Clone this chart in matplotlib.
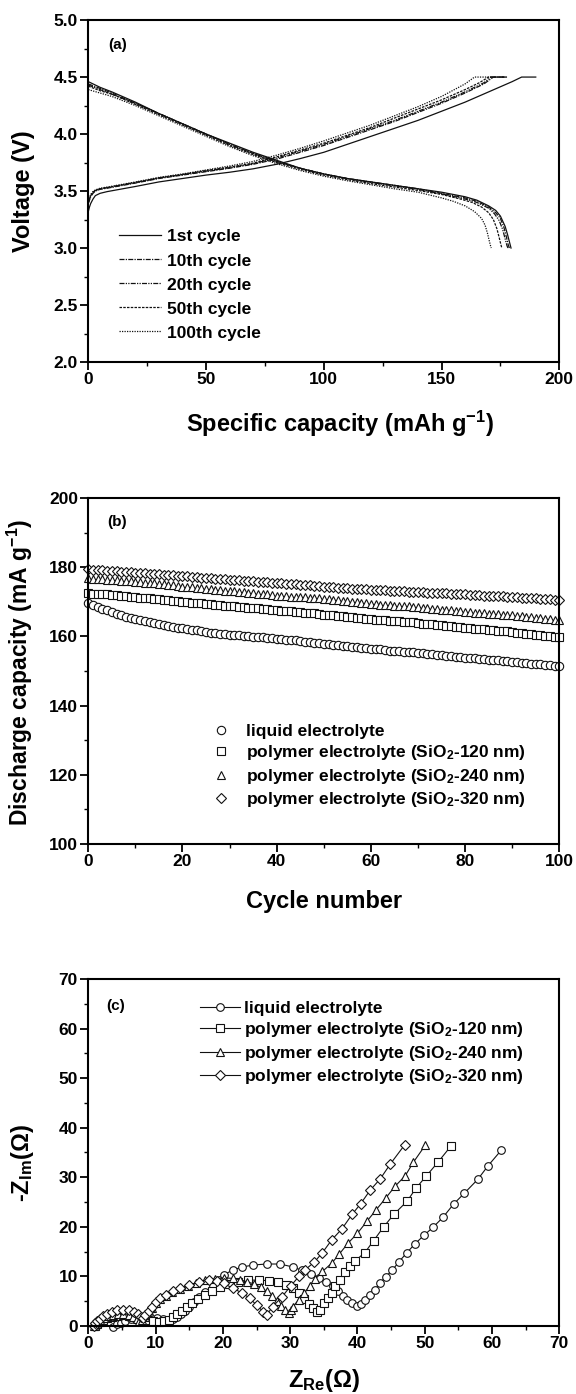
import numpy as np
import matplotlib.pyplot as plt
from matplotlib.ticker import MultipleLocator

plt.rcParams['font.family'] = ['Liberation Sans', 'DejaVu Sans']
plt.rcParams['font.weight'] = 'bold'
plt.rcParams['axes.labelweight'] = 'bold'
plt.rcParams['mathtext.fontset'] = 'custom'
plt.rcParams['mathtext.rm'] = 'Liberation Sans:bold'
plt.rcParams['mathtext.it'] = 'Liberation Sans:bold'
plt.rcParams['mathtext.bf'] = 'Liberation Sans:bold'
plt.rcParams['mathtext.default'] = 'rm'

# ---------------- (a) charge / discharge profiles ----------------
cycle_names = ['1st cycle', '10th cycle', '20th cycle', '50th cycle', '100th cycle']

chg_x_1 = [0, 0.5, 1, 2, 3, 5, 8, 12, 20, 30, 40, 50, 60, 70, 80, 90, 100, 110, 120, 130, 140, 150, 160, 170, 180, 184, 190]
chg_v_1 = [3.32, 3.36, 3.39, 3.43, 3.46, 3.48, 3.495, 3.51, 3.54, 3.58, 3.61, 3.64, 3.665, 3.695, 3.735, 3.785, 3.84, 3.91, 3.98, 4.05, 4.12, 4.20, 4.28, 4.37, 4.46, 4.50, 4.50]
chg_x_10 = [0, 0.5, 1, 2, 3, 5, 8, 12, 20, 30, 40, 50, 60, 70, 80, 90, 100, 110, 120, 130, 140, 150, 160, 168, 172, 178]
chg_v_10 = [3.39, 3.42, 3.45, 3.48, 3.50, 3.515, 3.525, 3.54, 3.57, 3.61, 3.64, 3.67, 3.70, 3.735, 3.78, 3.84, 3.90, 3.97, 4.04, 4.11, 4.19, 4.27, 4.36, 4.44, 4.50, 4.50]
chg_x_20 = [0, 0.5, 1, 2, 3, 5, 8, 12, 20, 30, 40, 50, 60, 70, 80, 90, 100, 110, 120, 130, 140, 150, 160, 168, 171, 178]
chg_v_20 = [3.40, 3.43, 3.46, 3.49, 3.505, 3.52, 3.53, 3.545, 3.575, 3.615, 3.645, 3.675, 3.705, 3.74, 3.79, 3.85, 3.91, 3.98, 4.05, 4.12, 4.20, 4.28, 4.37, 4.45, 4.50, 4.50]
chg_x_50 = [0, 0.5, 1, 2, 3, 5, 8, 12, 20, 30, 40, 50, 60, 70, 80, 90, 100, 110, 120, 130, 140, 150, 160, 166, 170, 177]
chg_v_50 = [3.40, 3.43, 3.46, 3.49, 3.505, 3.52, 3.53, 3.545, 3.575, 3.615, 3.645, 3.68, 3.71, 3.745, 3.80, 3.86, 3.92, 3.99, 4.06, 4.14, 4.22, 4.30, 4.39, 4.45, 4.50, 4.50]
chg_x_100 = [0, 0.5, 1, 2, 3, 5, 8, 12, 20, 30, 40, 50, 60, 70, 80, 90, 100, 110, 120, 130, 140, 150, 160, 164, 176]
chg_v_100 = [3.41, 3.44, 3.47, 3.495, 3.51, 3.525, 3.535, 3.55, 3.58, 3.62, 3.65, 3.685, 3.72, 3.76, 3.815, 3.875, 3.94, 4.01, 4.08, 4.16, 4.24, 4.33, 4.44, 4.50, 4.50]

dis_x_1 = [0, 5, 10, 20, 30, 40, 50, 60, 70, 80, 90, 100, 110, 120, 130, 140, 150, 160, 165, 170, 173, 175, 177, 178, 179, 179.5]
dis_v_1 = [4.46, 4.41, 4.37, 4.28, 4.18, 4.09, 4.00, 3.92, 3.84, 3.77, 3.70, 3.65, 3.61, 3.58, 3.55, 3.52, 3.49, 3.45, 3.42, 3.37, 3.33, 3.28, 3.19, 3.12, 3.04, 3.00]
dis_x_10 = [0, 5, 10, 20, 30, 40, 50, 60, 70, 80, 90, 100, 110, 120, 130, 140, 150, 160, 165, 170, 173, 175, 176.5, 177.5, 178.3, 178.8]
dis_v_10 = [4.44, 4.40, 4.36, 4.27, 4.18, 4.09, 4.00, 3.91, 3.83, 3.76, 3.70, 3.65, 3.61, 3.58, 3.55, 3.52, 3.48, 3.44, 3.41, 3.36, 3.31, 3.26, 3.18, 3.10, 3.03, 3.00]
dis_x_20 = [0, 5, 10, 20, 30, 40, 50, 60, 70, 80, 90, 100, 110, 120, 130, 140, 150, 160, 165, 170, 172.5, 174.5, 176, 177, 177.8, 178.2]
dis_v_20 = [4.43, 4.39, 4.35, 4.27, 4.18, 4.09, 4.00, 3.91, 3.83, 3.76, 3.70, 3.65, 3.61, 3.575, 3.545, 3.515, 3.475, 3.43, 3.40, 3.35, 3.30, 3.24, 3.16, 3.08, 3.02, 3.00]
dis_x_50 = [0, 5, 10, 20, 30, 40, 50, 60, 70, 80, 90, 100, 110, 120, 130, 140, 150, 158, 163, 167, 170, 172, 173.5, 174.5, 175.2, 175.6]
dis_v_50 = [4.42, 4.38, 4.35, 4.26, 4.17, 4.08, 3.99, 3.90, 3.82, 3.75, 3.69, 3.64, 3.60, 3.565, 3.535, 3.505, 3.47, 3.43, 3.40, 3.36, 3.31, 3.25, 3.17, 3.09, 3.03, 3.00]
dis_x_100 = [0, 5, 10, 20, 30, 40, 50, 60, 70, 80, 90, 100, 110, 120, 130, 140, 150, 155, 160, 164, 167, 168.5, 169.5, 170.3, 170.8, 171.1]
dis_v_100 = [4.39, 4.36, 4.33, 4.25, 4.16, 4.07, 3.98, 3.89, 3.81, 3.74, 3.68, 3.63, 3.59, 3.555, 3.52, 3.49, 3.44, 3.41, 3.37, 3.32, 3.26, 3.20, 3.13, 3.06, 3.02, 3.00]

# ---------------- (b) cycling ----------------
series_names = ['liquid electrolyte',
                'polymer electrolyte (SiO$_2$-120 nm)',
                'polymer electrolyte (SiO$_2$-240 nm)',
                'polymer electrolyte (SiO$_2$-320 nm)']

cycles = np.arange(0, 101)
cap_liquid = [169.6,
    169.2, 168.6, 168.0, 167.5, 167.0, 166.5, 166.1, 165.7, 165.3, 165.0,
    164.7, 164.4, 164.1, 163.8, 163.5, 163.3, 163.0, 162.8, 162.5, 162.3,
    162.1, 161.9, 161.7, 161.5, 161.3, 161.1, 160.9, 160.8, 160.6, 160.5,
    160.4, 160.3, 160.2, 160.0, 159.9, 159.8, 159.7, 159.6, 159.4, 159.3,
    159.2, 159.0, 158.9, 158.8, 158.6, 158.5, 158.4, 158.2, 158.1, 157.9,
    157.8, 157.6, 157.5, 157.3, 157.2, 157.0, 156.9, 156.7, 156.6, 156.4,
    156.3, 156.2, 156.1, 155.9, 155.8, 155.7, 155.6, 155.5, 155.4, 155.3,
    155.1, 155.0, 154.8, 154.7, 154.5, 154.4, 154.3, 154.1, 154.0, 153.8,
    153.7, 153.6, 153.5, 153.4, 153.3, 153.2, 153.1, 153.0, 152.9, 152.7,
    152.6, 152.4, 152.3, 152.1, 152.0, 151.9, 151.7, 151.6, 151.4, 151.3]
cap_120 = [172.4,
    172.3, 172.3, 172.2, 172.1, 172.0, 171.9, 171.8, 171.6, 171.5, 171.4,
    171.2, 171.1, 171.0, 170.8, 170.7, 170.6, 170.4, 170.3, 170.1, 170.0,
    169.8, 169.7, 169.6, 169.5, 169.4, 169.3, 169.2, 169.0, 168.9, 168.8,
    168.7, 168.6, 168.5, 168.3, 168.2, 168.1, 168.0, 167.8, 167.7, 167.5,
    167.4, 167.3, 167.2, 167.0, 166.9, 166.8, 166.7, 166.6, 166.4, 166.3,
    166.2, 166.1, 165.9, 165.8, 165.7, 165.5, 165.4, 165.3, 165.1, 164.9,
    164.8, 164.7, 164.6, 164.5, 164.4, 164.3, 164.2, 164.1, 164.0, 163.8,
    163.7, 163.6, 163.5, 163.3, 163.2, 163.0, 162.9, 162.8, 162.6, 162.4,
    162.3, 162.2, 162.1, 162.0, 161.9, 161.8, 161.6, 161.5, 161.4, 161.2,
    161.1, 160.9, 160.8, 160.6, 160.5, 160.3, 160.2, 160.0, 159.9, 159.8]
cap_240 = [176.8,
    176.7, 176.6, 176.5, 176.4, 176.3, 176.2, 176.1, 176.0, 175.9, 175.8,
    175.6, 175.5, 175.4, 175.3, 175.1, 175.0, 174.8, 174.7, 174.6, 174.4,
    174.3, 174.2, 174.0, 173.9, 173.8, 173.6, 173.5, 173.4, 173.2, 173.1,
    173.0, 172.8, 172.7, 172.6, 172.4, 172.3, 172.2, 172.1, 171.9, 171.8,
    171.7, 171.6, 171.5, 171.4, 171.3, 171.3, 171.2, 171.1, 171.0, 170.9,
    170.8, 170.6, 170.5, 170.3, 170.2, 170.0, 169.9, 169.7, 169.6, 169.4,
    169.3, 169.2, 169.1, 169.0, 168.9, 168.9, 168.8, 168.7, 168.6, 168.5,
    168.3, 168.2, 168.0, 167.9, 167.7, 167.6, 167.5, 167.3, 167.2, 167.0,
    166.9, 166.8, 166.7, 166.6, 166.5, 166.5, 166.4, 166.3, 166.2, 166.1,
    166.0, 165.8, 165.7, 165.5, 165.4, 165.3, 165.1, 165.0, 164.8, 164.6]
cap_320 = [179.4,
    179.3, 179.2, 179.1, 179.0, 178.9, 178.8, 178.7, 178.6, 178.5, 178.4,
    178.3, 178.2, 178.1, 178.0, 177.9, 177.8, 177.7, 177.6, 177.5, 177.4,
    177.3, 177.2, 177.1, 177.0, 176.9, 176.8, 176.7, 176.6, 176.5, 176.4,
    176.3, 176.2, 176.1, 176.0, 175.9, 175.8, 175.7, 175.6, 175.5, 175.4,
    175.3, 175.2, 175.1, 175.0, 174.9, 174.8, 174.7, 174.6, 174.5, 174.4,
    174.3, 174.2, 174.1, 174.0, 173.9, 173.8, 173.7, 173.7, 173.6, 173.5,
    173.4, 173.3, 173.3, 173.2, 173.1, 173.0, 173.0, 172.9, 172.8, 172.8,
    172.7, 172.6, 172.6, 172.5, 172.4, 172.4, 172.3, 172.2, 172.2, 172.1,
    172.0, 172.0, 171.9, 171.8, 171.8, 171.7, 171.6, 171.6, 171.5, 171.4,
    171.3, 171.2, 171.2, 171.1, 171.0, 170.9, 170.8, 170.7, 170.6, 170.4]

# ---------------- (c) impedance ----------------
zre_liquid = [3.7, 4.2, 4.8, 5.5, 6.3, 7.2, 8.2, 9.2, 10.2, 11.1, 11.9, 12.6, 13.2, 13.8, 14.4, 15.0, 15.7, 16.5, 17.4, 18.5,
              19.4, 20.1, 21.5, 22.9, 24.5, 26.5, 28.5, 30.4, 31.8, 33.1, 34.3, 35.4, 36.3, 37.1, 37.8, 38.5, 39.2, 39.9,
              40.5, 41.1, 41.9, 42.6, 43.3, 44.2, 45.2, 46.2, 47.3, 48.5, 49.9, 51.3, 52.7, 54.3, 55.9, 57.9, 59.4, 61.4]
zim_liquid = [-0.2, 0.3, 0.7, 1.1, 1.4, 1.7, 1.8, 1.8, 1.6, 1.4, 1.3, 1.4, 1.8, 2.4, 3.1, 3.9, 4.8, 5.8, 6.9, 8.1,
              9.2, 10.3, 11.3, 11.9, 12.3, 12.5, 12.5, 11.9, 11.2, 10.4, 9.6, 8.8, 8.0, 7.0, 6.1, 5.3, 4.6, 4.0,
              4.4, 5.2, 6.25, 7.3, 8.6, 9.9, 11.3, 13.0, 14.7, 16.5, 18.3, 20.0, 21.9, 24.6, 26.8, 29.6, 32.3, 35.5]

zre_120 = [1.0, 1.3, 1.7, 2.2, 2.8, 3.5, 4.3, 5.2, 6.1, 7.0, 7.8, 8.7, 9.6, 10.5, 11.3, 12.0, 12.6, 13.2, 13.9, 14.6,
           15.4, 16.3, 17.3, 18.4, 19.6, 20.9, 22.3, 23.8, 25.3, 26.8, 28.2, 29.4, 30.4, 31.3, 32.1, 32.8, 33.4, 34.0,
           34.5, 35.1, 35.6, 36.2, 36.7, 37.4, 38.1, 38.9, 39.7, 41.1, 42.4, 43.9, 45.4, 47.4, 48.7, 50.2, 52.0, 53.9]
zim_120 = [0.0, 0.4, 0.8, 1.2, 1.6, 1.9, 2.1, 2.2, 2.1, 1.8, 1.5, 1.2, 1.0, 0.9, 1.0, 1.3, 1.8, 2.4, 3.1, 3.9,
           4.7, 5.5, 6.3, 7.1, 7.8, 8.4, 8.9, 9.2, 9.3, 9.1, 8.8, 8.3, 7.6, 6.6, 5.5, 4.5, 3.6, 2.9,
           3.3, 4.6, 5.6, 6.6, 8.0, 9.3, 10.9, 12.0, 13.2, 14.8, 17.2, 20.0, 22.5, 25.2, 27.8, 30.2, 33.1, 36.3]

zre_240 = [0.9, 1.1, 1.4, 1.8, 2.3, 2.9, 3.6, 4.4, 5.2, 6.0, 6.7, 7.2, 7.6, 8.0, 8.4, 8.9, 9.4, 10.0, 10.7, 11.5,
           12.5, 13.6, 14.8, 16.0, 17.4, 18.8, 20.2, 21.5, 22.6, 23.6, 24.6, 25.6, 26.5, 27.3, 28.0, 28.7, 29.3, 29.9,
           30.1, 30.4, 31.3, 32.1, 32.9, 33.7, 34.8, 36.2, 37.3, 38.6, 40.0, 41.4, 42.7, 44.2, 45.6, 47.1, 48.3, 50.1]
zim_240 = [0.0, 0.4, 0.8, 1.2, 1.6, 2.0, 2.3, 2.5, 2.5, 2.3, 1.9, 1.5, 1.1, 1.2, 1.9, 2.8, 3.7, 4.6, 5.4, 6.1,
           6.8, 7.5, 8.1, 8.7, 9.2, 9.5, 9.7, 9.6, 9.3, 8.9, 8.5, 7.8, 7.0, 6.0, 5.0, 4.0, 3.2, 2.7,
           3.2, 3.9, 5.3, 6.6, 8.1, 9.4, 11.0, 12.7, 14.5, 16.7, 18.7, 21.1, 23.3, 25.8, 28.2, 30.3, 33.0, 36.5]

zre_320 = [0.8, 1.0, 1.3, 1.7, 2.2, 2.8, 3.5, 4.3, 5.2, 6.0, 6.8, 7.4, 7.8, 8.1, 8.5, 9.0, 9.5, 10.1, 10.7, 11.5,
           12.6, 13.7, 15.0, 16.5, 18.0, 19.2, 20.1, 21.5, 22.8, 24.0, 25.0, 26.0, 26.5,
           27.4, 28.8, 30.1, 31.3, 32.2, 33.6, 34.8, 36.2, 37.7, 39.2, 40.5, 41.9, 43.4, 44.9, 47.0]
zim_320 = [0.0, 0.5, 1.0, 1.5, 2.0, 2.5, 2.9, 3.2, 3.3, 3.2, 2.9, 2.4, 1.9, 1.6, 2.2, 3.0, 3.9, 4.8, 5.6, 6.3,
           7.0, 7.6, 8.3, 8.9, 9.3, 9.1, 8.6, 7.6, 6.7, 5.6, 4.2, 2.9, 2.2,
           3.9, 5.9, 8.1, 10.0, 11.3, 12.9, 14.8, 17.4, 19.6, 22.5, 24.7, 27.4, 29.7, 32.7, 36.5]


def style_axes(ax, xmaj, xmin, ymaj, ymin):
    for sp in ax.spines.values():
        sp.set_linewidth(1.5)
    ax.xaxis.set_major_locator(MultipleLocator(xmaj))
    ax.xaxis.set_minor_locator(MultipleLocator(xmin))
    ax.yaxis.set_major_locator(MultipleLocator(ymaj))
    ax.yaxis.set_minor_locator(MultipleLocator(ymin))
    ax.tick_params(which='major', direction='out', length=5.5, width=1.3,
                   labelsize=12.5, pad=2, top=False, right=False)
    ax.tick_params(which='minor', direction='out', length=3, width=1.0,
                   top=False, right=False)


fig = plt.figure(figsize=(5.76, 13.94), dpi=100)
ax_a = fig.add_axes([0.1533, 0.7403, 0.8177, 0.2453])
ax_b = fig.add_axes([0.1533, 0.3946, 0.8177, 0.2482])
ax_c = fig.add_axes([0.1533, 0.0488, 0.8177, 0.2489])

# (a)
styles = ['-', (0, (4, 1, 1, 1)), (0, (4, 1, 1, 1, 1, 1)), (0, (2, 1)), (0, (1, 1))]
charge = [(chg_x_1, chg_v_1), (chg_x_10, chg_v_10), (chg_x_20, chg_v_20), (chg_x_50, chg_v_50), (chg_x_100, chg_v_100)]
discharge = [(dis_x_1, dis_v_1), (dis_x_10, dis_v_10), (dis_x_20, dis_v_20), (dis_x_50, dis_v_50), (dis_x_100, dis_v_100)]
for name, ls, (cx, cv), (dx, dv) in zip(cycle_names, styles, charge, discharge):
    ax_a.plot(cx, cv, color='#111111', lw=0.9, ls=ls, label=name)
    ax_a.plot(dx, dv, color='#111111', lw=0.9, ls=ls)
ax_a.set_xlim(0, 200)
ax_a.set_ylim(2.0, 5.0)
style_axes(ax_a, 50, 25, 0.5, 0.25)
ax_a.set_xlabel('Specific capacity (mAh g$^{-1}$)', fontsize=17)
ax_a.set_ylabel('Voltage (V)', fontsize=17)
ax_a.xaxis.set_label_coords(0.534, -0.137)
ax_a.yaxis.set_label_coords(-0.113, 0.5)
ax_a.text(0.042, 0.927, '(a)', transform=ax_a.transAxes, fontsize=11, va='center')
ax_a.legend(loc='upper left', bbox_to_anchor=(0.065, 0.388), frameon=False, fontsize=12.5,
            handlelength=2.45, handletextpad=0.32, labelspacing=0.51, borderpad=0, borderaxespad=0)

# (b)
markers = ['o', 's', '^', 'D']
msizes = [6, 5.6, 6.4, 5.2]
for name, m, ms, vals in zip(series_names, markers, msizes, [cap_liquid, cap_120, cap_240, cap_320]):
    ax_b.plot(cycles, vals, ls='none', marker=m, ms=ms, mfc='white', mec='#111111', mew=0.8,
              label=name, clip_on=False)
ax_b.set_xlim(0, 100)
ax_b.set_ylim(100, 200)
style_axes(ax_b, 20, 10, 20, 10)
ax_b.set_xlabel('Cycle number', fontsize=17)
ax_b.set_ylabel('Discharge capacity (mA g$^{-1}$)', fontsize=16.5)
ax_b.xaxis.set_label_coords(0.5, -0.133)
ax_b.yaxis.set_label_coords(-0.113, 0.497)
ax_b.text(0.040, 0.931, '(b)', transform=ax_b.transAxes, fontsize=11, va='center')
ax_b.legend(loc='upper left', bbox_to_anchor=(0.263, 0.348), frameon=False, fontsize=12.5,
            handlelength=1.0, handletextpad=0.94, labelspacing=0.265, borderpad=0, borderaxespad=0,
            numpoints=1)

# (c)
zdata = [(zre_liquid, zim_liquid), (zre_120, zim_120), (zre_240, zim_240), (zre_320, zim_320)]
msizes_c = [5.5, 5.2, 6.0, 5.0]
for name, m, ms, (zr, zi) in zip(series_names, markers, msizes_c, zdata):
    ax_c.plot(zr, zi, color='#111111', lw=0.8, marker=m, ms=ms, mfc='white', mec='#111111',
              mew=0.8, label=name, clip_on=False)
ax_c.set_xlim(0, 70)
ax_c.set_ylim(0, 70)
style_axes(ax_c, 10, 5, 10, 5)
ax_c.set_xlabel('Z$_{Re}$(Ω)', fontsize=17)
ax_c.set_ylabel('-Z$_{Im}$(Ω)', fontsize=17)
ax_c.xaxis.set_label_coords(0.5, -0.117)
ax_c.yaxis.set_label_coords(-0.111, 0.47)
ax_c.text(0.038, 0.923, '(c)', transform=ax_c.transAxes, fontsize=11, va='center')
ax_c.legend(loc='upper left', bbox_to_anchor=(0.238, 0.938), frameon=False, fontsize=12.5,
            handlelength=2.27, handletextpad=0.27, labelspacing=0.265, borderpad=0, borderaxespad=0,
            numpoints=1)

# make the tick labels bold once the ticks exist
fig.canvas.draw()
for ax in (ax_a, ax_b, ax_c):
    for lab in ax.get_xticklabels() + ax.get_yticklabels():
        lab.set_fontweight('bold')

fig.savefig('out.png', dpi=100)
